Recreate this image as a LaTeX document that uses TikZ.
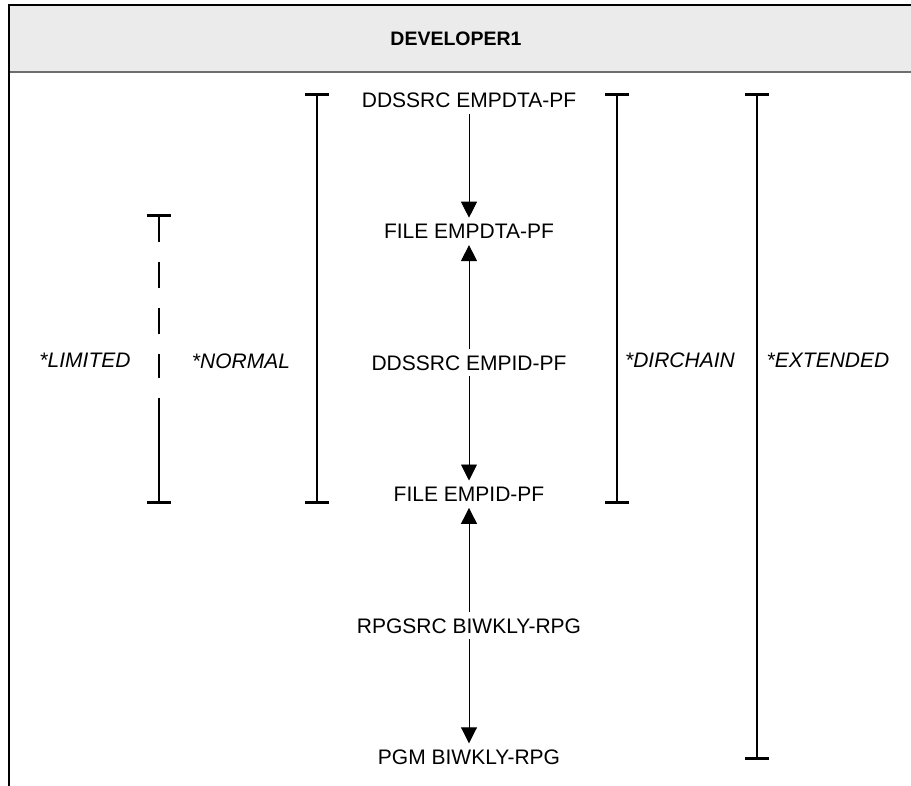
\documentclass[tikz,border=0pt]{standalone}
\usepackage{fontspec}
\setmainfont{Liberation Sans}
\usetikzlibrary{arrows.meta,positioning}
\definecolor{hdr}{HTML}{EBEBEB}
\definecolor{hdrline}{HTML}{6E6E6E}
\tikzset{
  obj/.style={inner sep=6pt,text height=15pt,text depth=0pt,font=\fontsize{21}{25}\selectfont},
  lvl/.style={font=\fontsize{21}{25}\selectfont\itshape},
  flow/.style={-{Triangle[length=16pt,width=16pt]},line width=0.9pt},
  span/.style={{Bar[width=24pt]}-{Bar[width=24pt]},line width=2.6pt},
}
\begin{document}
\begin{tikzpicture}[x=1pt,y=-1pt,node distance=104pt]
\useasboundingbox (0,0) rectangle (911,786);
% library header
\fill[hdr] (9,5) rectangle (920,72);
\draw[hdrline,line width=1.5pt] (9,72) -- (920,72);
\draw[line width=2.8pt] (9,792) -- (9,5) -- (920,5);
\node[font=\fontsize{19.5}{23}\selectfont\bfseries] (lib) at (456,39) {DEVELOPER1};
% objects
\node[obj] (srcdta) at (469,100) {DDSSRC EMPDTA-PF};
\node[obj,below=of srcdta] (filedta) {FILE EMPDTA-PF};
\node[obj,below=of filedta] (srcid) {DDSSRC EMPID-PF};
\node[obj,below=of srcid] (fileid) {FILE EMPID-PF};
\node[obj,below=of fileid] (rpgsrc) {RPGSRC BIWKLY-RPG};
\node[obj,below=of rpgsrc] (pgm) {PGM BIWKLY-RPG};
\draw[flow] (srcdta) -- (filedta);
\draw[flow] (srcid) -- (filedta);
\draw[flow] (srcid) -- (fileid);
\draw[flow] (rpgsrc) -- (fileid);
\draw[flow] (rpgsrc) -- (pgm);
% scope markers
\coordinate (limtop) at (159,214);
\coordinate (limgap) at (159,378);
\coordinate (limsol) at (159,398);
\coordinate (limbot) at (159,504);
\coordinate (nrmtop) at (317,93);
\coordinate (nrmbot) at (317,504);
\coordinate (dirtop) at (617,93);
\coordinate (dirbot) at (617,504);
\coordinate (exttop) at (757,93);
\coordinate (extbot) at (757,760);
\draw[line width=2.6pt,dash pattern=on 26pt off 20pt,{Bar[width=24pt]}-] (limtop) -- (limgap);
\draw[line width=2.6pt,-{Bar[width=24pt]}] (limsol) -- (limbot);
\draw[span] (nrmtop) -- (nrmbot);
\draw[span] (dirtop) -- (dirbot);
\draw[span] (exttop) -- (extbot);
\node[lvl] (lim) at (85,360) {*LIMITED};
\node[lvl] (nrm) at (241,361) {*NORMAL};
\node[lvl] (dir) at (680,360) {*DIRCHAIN};
\node[lvl] (ext) at (828,360) {*EXTENDED};
\end{tikzpicture}
\end{document}
